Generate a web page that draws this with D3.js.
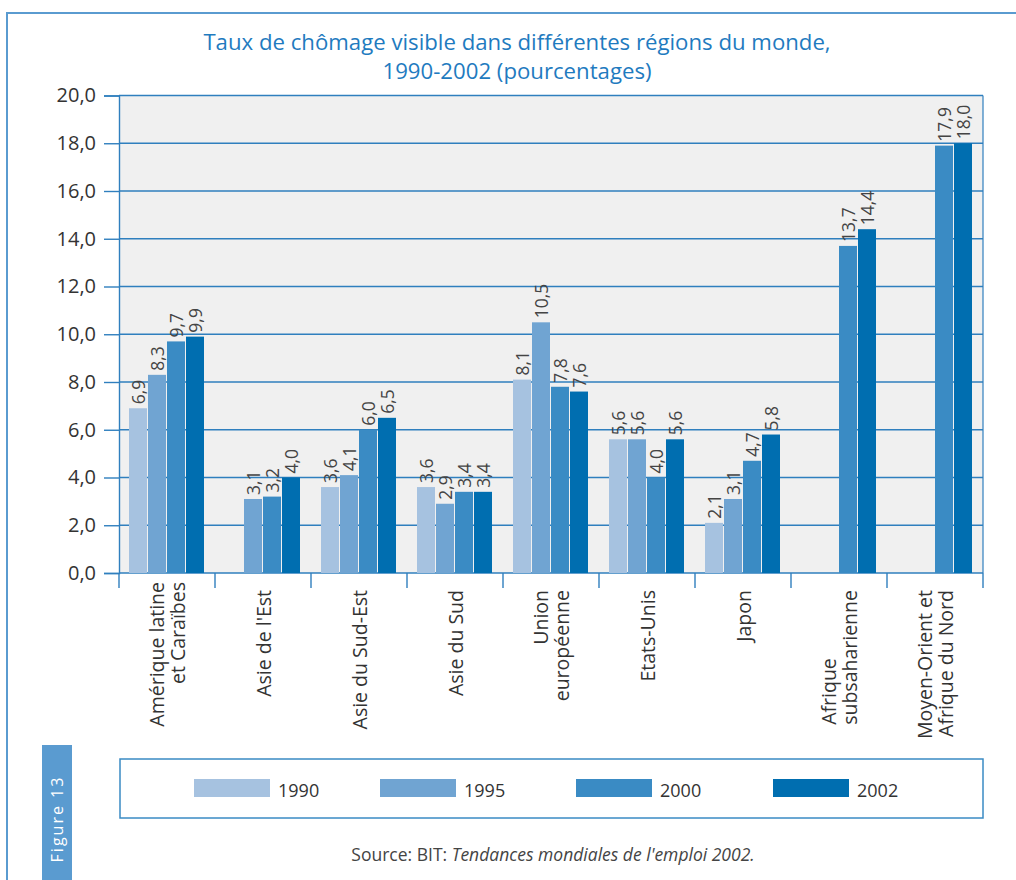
<!DOCTYPE html>
<html><head><meta charset="utf-8">
<script src="https://cdn.jsdelivr.net/npm/d3@7"></script>
<style>
html,body{margin:0;padding:0;background:#fff;}
svg{display:block;font-family:"Open Sans","DejaVu Sans",sans-serif;}
</style></head>
<body><svg id="c" width="1016" height="880"></svg>
<script>
const titleLines = ["Taux de chômage visible dans différentes régions du monde,", "1990-2002 (pourcentages)"];
const categories = ["Amérique latine et Caraïbes","Asie de l'Est","Asie du Sud-Est","Asie du Sud","Union européenne","Etats-Unis","Japon","Afrique subsaharienne","Moyen-Orient et Afrique du Nord"];
const categoryLines = [["Amérique latine","et Caraïbes"],["Asie de l'Est"],["Asie du Sud-Est"],["Asie du Sud"],["Union","européenne"],["Etats-Unis"],["Japon"],["Afrique","subsaharienne"],["Moyen-Orient et","Afrique du Nord"]];
const years = ["1990","1995","2000","2002"];
const v1990 = [6.9, null, 3.6, 3.6, 8.1, 5.6, 2.1, null, null];
const v1995 = [8.3, 3.1, 4.1, 2.9, 10.5, 5.6, 3.1, null, null];
const v2000 = [9.7, 3.2, 6.0, 3.4, 7.8, 4.0, 4.7, 13.7, 17.9];
const v2002 = [9.9, 4.0, 6.5, 3.4, 7.6, 5.6, 5.8, 14.4, 18.0];
const yTicks = [0,2,4,6,8,10,12,14,16,18,20];
const colors = ["#a6c2e0","#70a4d2","#3a8bc4","#006eb0"];
const sourcePlain = "Source: BIT: ";
const sourceItalic = "Tendances mondiales de l'emploi 2002.";
const figureLabel = "Figure 13";

const series = [v1990, v1995, v2000, v2002];
const fmt = d => d.toFixed(1).replace(".", ",");
const svg = d3.select("#c");

const L = 119, R = 983, T = 95.5, B = 573;
const y = d3.scaleLinear().domain([0, 20]).range([B, T]);
const x0 = d3.scaleBand().domain(categories).range([L, R]);
const x1 = d3.scaleBand().domain(years).range([10, x0.bandwidth() - 10]);

// outer frame
svg.append("line").attr("x1", 7).attr("x2", 1016).attr("y1", 13).attr("y2", 13).attr("stroke", "#5a9bd0").attr("stroke-width", 2);
svg.append("line").attr("x1", 7).attr("x2", 7).attr("y1", 12).attr("y2", 880).attr("stroke", "#5a9bd0").attr("stroke-width", 2);

// title
svg.append("g").selectAll("text").data(titleLines).join("text")
  .attr("x", 517).attr("y", (d, i) => 50 + i * 29)
  .attr("text-anchor", "middle").attr("font-size", 22.2).attr("fill", "#1f7bbf")
  .text(d => d);

// plot bg
svg.append("rect").attr("x", L).attr("y", T).attr("width", R - L).attr("height", B - T).attr("fill", "#f0f0f0");

// gridlines
svg.append("g").selectAll("line").data(yTicks).join("line")
  .attr("x1", L).attr("x2", R).attr("y1", d => y(d)).attr("y2", d => y(d))
  .attr("stroke", "#2f7fbe").attr("stroke-width", 1.4);

// right border
svg.append("line").attr("x1", R).attr("x2", R).attr("y1", T).attr("y2", B).attr("stroke", "#2f7fbe").attr("stroke-width", 1.2);

// y axis
const yAxis = svg.append("g").attr("transform", `translate(${L},0)`)
  .call(d3.axisLeft(y).tickValues(yTicks).tickFormat(fmt).tickSize(15).tickPadding(8));
yAxis.select(".domain").attr("stroke", "#2f7fbe").attr("stroke-width", 1.4);
yAxis.selectAll(".tick line").attr("stroke", "#2f7fbe").attr("stroke-width", 1.4);
yAxis.selectAll(".tick text").attr("font-size", 20).attr("fill", "#333").attr("font-family", "'Open Sans',sans-serif");

// bars
const groups = svg.append("g").selectAll("g").data(categories).join("g")
  .attr("transform", d => `translate(${x0(d)},0)`);
groups.each(function(cat, ci) {
  const g = d3.select(this);
  const vals = years.map((yr, si) => ({yr, si, v: series[si][ci]})).filter(d => d.v != null);
  g.selectAll("rect").data(vals).join("rect")
    .attr("x", d => x1(d.yr)).attr("width", x1.bandwidth() - 1)
    .attr("y", d => y(d.v)).attr("height", d => B - y(d.v))
    .attr("fill", d => colors[d.si]);
  g.selectAll("text").data(vals).join("text")
    .attr("transform", d => `translate(${x1(d.yr) + (x1.bandwidth() - 1) / 2},${y(d.v) - 4}) rotate(-90)`)
    .attr("dominant-baseline", "central").attr("text-anchor", "start")
    .attr("font-size", 17.5).attr("fill", "#444")
    .text(d => fmt(d.v));
});

// bottom axis ticks at band boundaries
const bounds = categories.map(c => x0(c)).concat([R]);
svg.append("g").selectAll("line").data(bounds).join("line")
  .attr("x1", d => d).attr("x2", d => d).attr("y1", B).attr("y2", B + 15)
  .attr("stroke", "#2f7fbe").attr("stroke-width", 1.4);

// category labels
categories.forEach((cat, ci) => {
  const lines = categoryLines[ci];
  const cx = x0(cat) + x0.bandwidth() / 2;
  const top = ci === 0 ? 582 : 590;
  const leftAlign = cat === "Afrique subsaharienne";
  const g = svg.append("g");
  const texts = g.selectAll("text").data(lines).join("text")
    .attr("font-size", 19.5).attr("fill", "#333")
    .attr("dominant-baseline", "central")
    .text(d => d);
  const maxLen = d3.max(texts.nodes(), n => n.getComputedTextLength());
  texts.attr("transform", (d, i) => {
      const x = cx + (i - (lines.length - 1) / 2) * 21;
      return leftAlign ? `translate(${x},${top + maxLen}) rotate(-90)` : `translate(${x},${top}) rotate(-90)`;
    })
    .attr("text-anchor", leftAlign ? "start" : "end");
});

// Figure tab
svg.append("rect").attr("x", 42).attr("y", 745).attr("width", 30).attr("height", 135).attr("fill", "#5a9bd0");
svg.append("text").attr("transform", "translate(57,819) rotate(-90)")
  .attr("text-anchor", "middle").attr("dominant-baseline", "central")
  .attr("font-size", 16).attr("letter-spacing", 2).attr("fill", "#fff").text(figureLabel);

// legend
svg.append("rect").attr("x", 120).attr("y", 759).attr("width", 863).attr("height", 59)
  .attr("fill", "#fff").attr("stroke", "#3a8bc4").attr("stroke-width", 1.5);
const legendX = [194, 380, 576, 773];
const lg = svg.append("g").selectAll("g").data(years).join("g")
  .attr("transform", (d, i) => `translate(${legendX[i]},779)`);
lg.append("rect").attr("width", 76).attr("height", 18).attr("fill", (d, i) => colors[i]);
lg.append("text").attr("x", 84).attr("y", 18).attr("font-size", 18).attr("fill", "#333").text(d => d);

// source
const src = svg.append("text").attr("x", 553).attr("y", 861).attr("text-anchor", "middle")
  .attr("font-size", 17.5).attr("fill", "#444");
src.append("tspan").text(sourcePlain);
src.append("tspan").attr("font-style", "italic").text(sourceItalic);
</script>
</body></html>
